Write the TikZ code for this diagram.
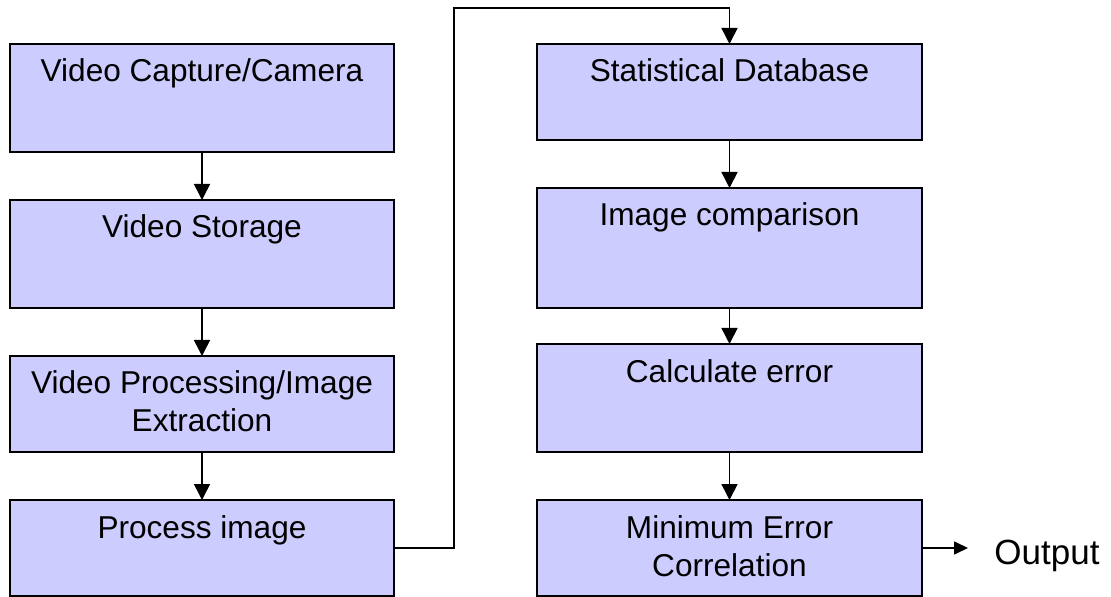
\documentclass[tikz,border=0pt]{standalone}
\usepackage{fontspec}
\setmainfont{Liberation Sans}
\usepackage{tikz}
\usetikzlibrary{arrows.meta}
\usetikzlibrary{positioning}
\definecolor{stagefill}{RGB}{204,204,255}
\newcommand{\stagefont}{\fontsize{15.8pt}{19pt}\selectfont}
\newcommand{\stagetext}[3]{\parbox[b][#2][t]{#1}{\centering\rule{0pt}{19pt}#3}}

\begin{document}
\begin{tikzpicture}[line cap=round, >={Triangle[length=8pt,width=8pt]},
  stage/.style={draw, fill=stagefill, line width=1pt, inner sep=0pt, outer sep=0pt, anchor=north, font=\stagefont},
  flow/.style={->, line width=0.8pt}]
  \useasboundingbox (0,0) rectangle (555.5pt,-298.5pt);
  %--- Left column
    \node[stage] (capture) at (101pt,-22pt) {\stagetext{192pt}{54pt}{Video Capture/Camera}};
    \node[stage] (storage) at (101pt,-100pt) {\stagetext{192pt}{54pt}{Video Storage}};
    \node[stage] (extract) at (101pt,-178pt) {\stagetext{192pt}{48pt}{Video Processing/Image\\Extraction}};
    \node[stage] (process) at (101pt,-250pt) {\stagetext{192pt}{48pt}{Process image}};
  %--- Right column
    \node[stage] (stats) at (364.75pt,-22pt) {\stagetext{192.5pt}{48pt}{Statistical Database}};
    \node[stage] (compare) at (364.75pt,-94pt) {\stagetext{192.5pt}{60pt}{Image comparison}};
    \node[stage] (calc) at (364.75pt,-172pt) {\stagetext{192.5pt}{54pt}{Calculate error}};
    \node[stage] (mincor) at (364.75pt,-250pt) {\stagetext{192.5pt}{48pt}{Minimum Error\\Correlation}};
  %--- Output
    \node[right=36pt of mincor, inner sep=0pt, yshift=-4pt, font=\fontsize{17.5pt}{21pt}\selectfont] (output) {Output};
  %--- Flow
    \draw[flow] (capture) -- (storage);
    \draw[flow] (storage) -- (extract);
    \draw[flow] (extract) -- (process);
    \coordinate (bend) at (227pt,-4pt);
    \draw[flow] (process.east) -| (bend) -| (stats.north);
    \draw[flow] (stats) -- (compare);
    \draw[flow] (compare) -- (calc);
    \draw[flow] (calc) -- (mincor);
    \draw[flow, shorten >=13pt, -{Triangle[length=7pt,width=6.5pt]}] (mincor.east) -- (mincor.east -| output.west);
\end{tikzpicture}
\end{document}
